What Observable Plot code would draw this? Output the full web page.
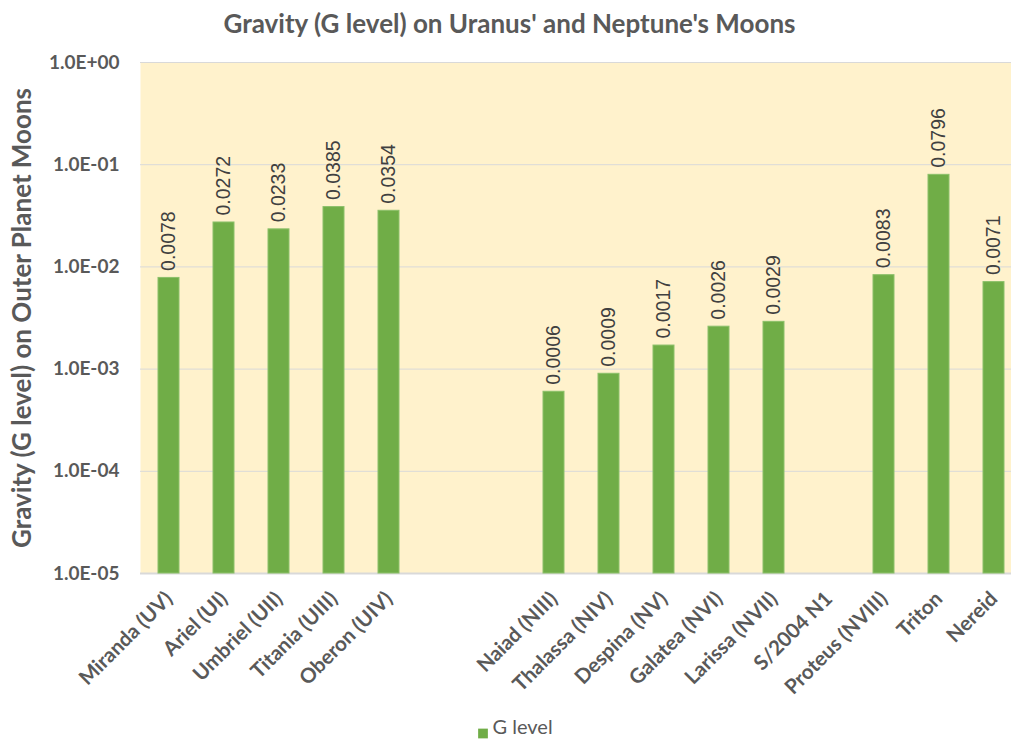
<!DOCTYPE html>
<html>
<head>
<meta charset="utf-8">
<script src="https://cdn.jsdelivr.net/npm/d3@7"></script>
<script src="https://cdn.jsdelivr.net/npm/@observablehq/plot@0.6"></script>
<style>
  html, body { margin: 0; padding: 0; background: #fff; }
  #chart svg { display: block; }
</style>
</head>
<body>
<div id="chart"></div>
<script>
const title = "Gravity (G level) on Uranus' and Neptune's Moons";
const yLabel = "Gravity (G level) on Outer Planet Moons";
const seriesName = "G level";
const categories = [
  "Miranda (UV)", "Ariel (UI)", "Umbriel (UII)", "Titania (UIII)", "Oberon (UIV)",
  "", "",
  "Naiad (NIII)", "Thalassa (NIV)", "Despina (NV)", "Galatea (NVI)", "Larissa (NVII)",
  "S/2004 N1", "Proteus (NVIII)", "Triton", "Nereid"
];
const gLevel = [
  0.0078, 0.0272, 0.0233, 0.0385, 0.0354,
  null, null,
  0.0006, 0.0009, 0.0017, 0.0026, 0.0029,
  null, 0.0083, 0.0796, 0.0071
];
const yTicks = [1, 0.1, 0.01, 0.001, 0.0001, 0.00001];
const yTickLabels = ["1.0E+00", "1.0E-01", "1.0E-02", "1.0E-03", "1.0E-04", "1.0E-05"];

const data = categories.map((c, i) => ({slot: i, name: c, g: gLevel[i]}));
const bars = data.filter(d => d.g != null);

const W = 1011, H = 743;
const mL = 140, mT = 62, mB = 170;
const step = 55.1;
const textColor = "#595959";
const barColor = "#70AD47";
const font = "Lato, 'Open Sans', sans-serif";

const chart = Plot.plot({
  width: W,
  height: H,
  marginLeft: mL,
  marginRight: 0,
  marginTop: mT,
  marginBottom: mB,
  style: {background: "#fff", overflow: "visible"},
  x: {
    type: "band",
    domain: d3.range(categories.length),
    range: [mL, mL + step * categories.length],
    paddingInner: 0.62,
    paddingOuter: 0.31
  },
  y: {
    type: "log",
    domain: [0.00001, 1],
    range: [H - mB, mT]
  },
  marks: [
    Plot.frame({fill: "#FFF2CC", stroke: null}),
    Plot.ruleY(yTicks.slice(0, -1), {stroke: "#D9D9D9", strokeWidth: 1}),
    Plot.ruleY([0.00001], {stroke: "#D9D9D9", strokeWidth: 2}),
    Plot.barY(bars, {x: "slot", y1: 0.00001, y2: "g", fill: barColor, stroke: "#8CC06A", strokeWidth: 1}),
    Plot.text(bars, {
      x: "slot", y: "g", text: d => d.g.toFixed(4),
      rotate: -90, textAnchor: "start", dy: -7,
      fontFamily: "'Liberation Sans', Arial, sans-serif", fontSize: 19.5, fill: "#404040"
    }),
    Plot.axisY({
      ticks: yTicks,
      tickFormat: (d) => yTickLabels[yTicks.indexOf(d)],
      tickSize: 0, tickPadding: 21,
      label: null,
      fontFamily: font, fontWeight: "bold", fontSize: 19, fill: textColor
    }),
    Plot.axisX({
      tickFormat: i => categories[i],
      tickRotate: -45,
      tickSize: 0, tickPadding: 22,
      label: null,
      fontFamily: font, fontWeight: "bold", fontSize: 20.5, fill: textColor
    }),
    Plot.text([yLabel], {
      frameAnchor: "left", dx: -118, rotate: -90, textAnchor: "middle",
      fontFamily: font, fontWeight: "bold", fontSize: 26, fill: textColor
    }),
    Plot.text([title], {
      frameAnchor: "top-left", dx: 369, dy: -48, textAnchor: "middle",
      fontFamily: font, fontWeight: "bold", fontSize: 26, fill: textColor
    }),
    Plot.dot([seriesName], {
      frameAnchor: "bottom-left", dx: 482.5 - mL, dy: 160,
      symbol: "square", r: 5.5, fill: barColor, stroke: null
    }),
    Plot.text([seriesName], {
      frameAnchor: "bottom-left", dx: 492 - mL, dy: 160, textAnchor: "start",
      fontFamily: font, fontSize: 20, fill: textColor
    })
  ]
});

document.getElementById("chart").appendChild(chart);
</script>
</body>
</html>
